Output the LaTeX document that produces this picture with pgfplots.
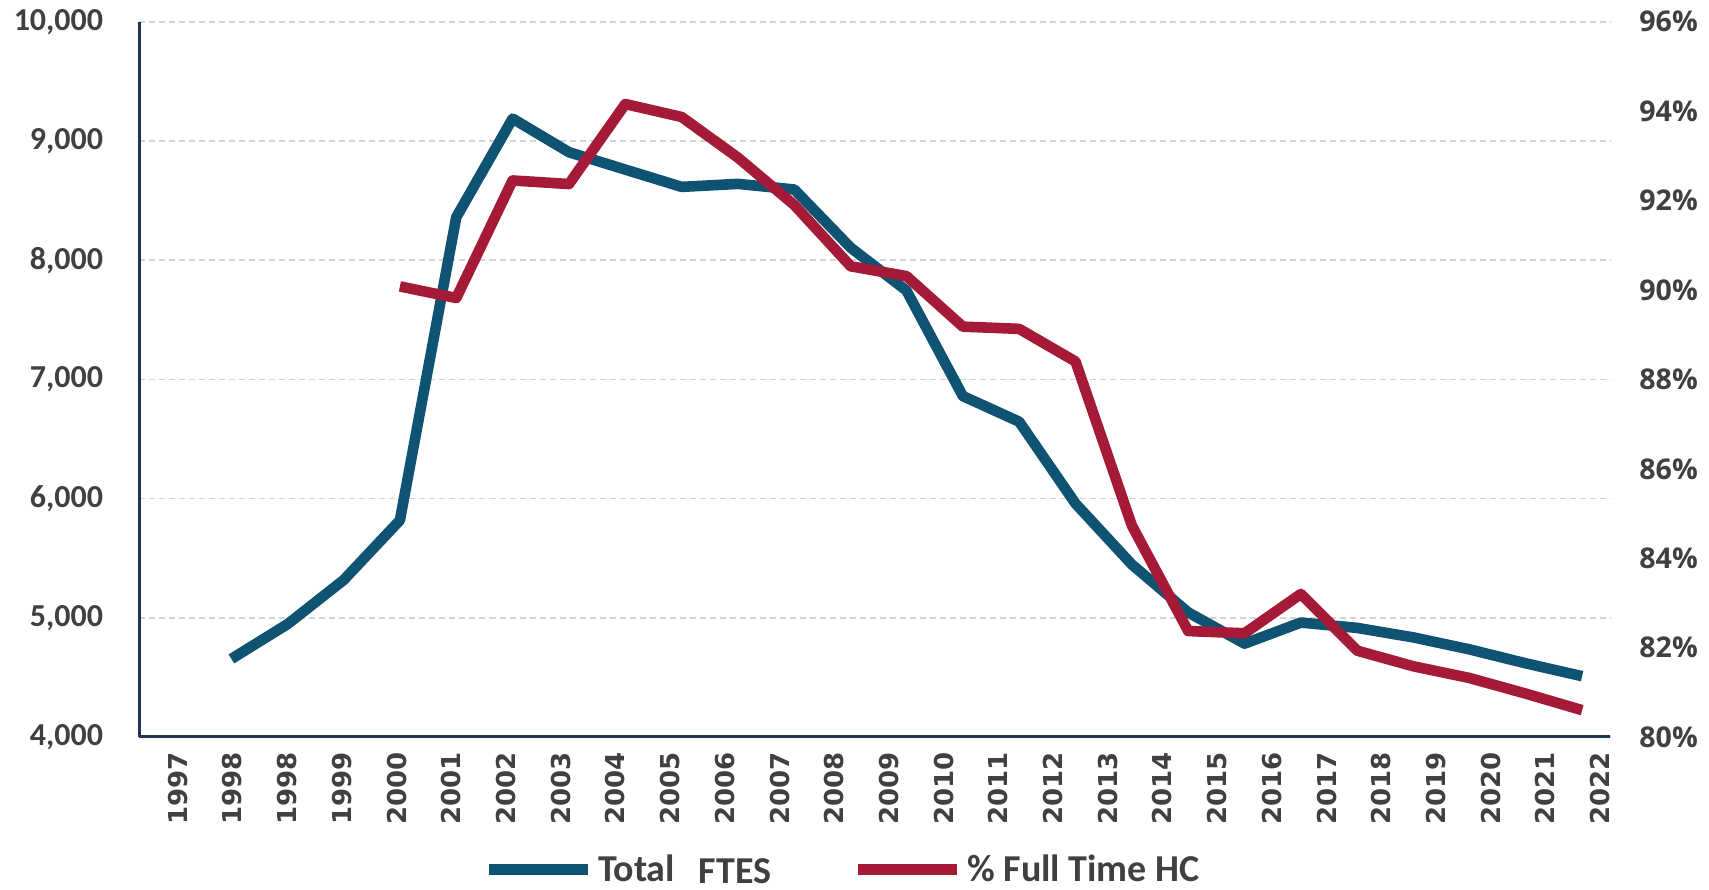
\documentclass[border=0pt]{standalone}
\usepackage{fontspec}
\setmainfont{Carlito}
\newfontfamily\osans{Open Sans}
\newfontfamily\dvs{DejaVu Sans}
\usepackage{pgfplots}
\pgfplotsset{compat=1.18}

\definecolor{ftesblue}{RGB}{15,83,115}
\definecolor{hcred}{RGB}{165,26,55}
\definecolor{axnavy}{RGB}{31,54,84}
\definecolor{txt}{RGB}{64,64,64}
\definecolor{gridc}{RGB}{212,212,212}

\begin{document}
\begin{tikzpicture}
\pgfplotsset{
  every axis/.append style={
    scale only axis, width=735.25pt, height=357.6pt,
    xmin=-0.70, xmax=26.18,
    major tick length=0pt,
    scaled y ticks=false,
    /pgf/number format/assume math mode=true,
  },
}
% left axis: Total FTES
\begin{axis}[
  ymin=4000, ymax=10000, ytick={4000,5000,...,10000},
  axis x line*=bottom, axis y line*=left,
  axis line style={-, draw=axnavy, line width=1.5pt},
  xtick={0,...,26},
  xticklabels={1997,1998,1998,1999,2000,2001,2002,2003,2004,2005,2006,2007,2008,2009,2010,2011,2012,2013,2014,2015,2016,2017,2018,2019,2020,2021,2022},
  xticklabel style={font=\dvs\bfseries\fontsize{13}{13}\selectfont, text=txt, rotate=90, anchor=east, inner sep=0pt},
  xticklabel shift=7.5pt,
  yticklabel style={font=\bfseries\fontsize{16}{16}\selectfont, text=txt, inner sep=0pt},
  yticklabel shift=18pt,
  /pgf/number format/1000 sep={,},
  ymajorgrids, grid style={draw=gridc, line width=0.75pt, dash pattern=on 3pt off 2pt},
]
\addplot[ftesblue, line width=5.3pt, line join=round] coordinates {
  (0.98,4655) (2.01,4948) (3.03,5316) (4.06,5818) (5.09,8360) (6.12,9188)
  (7.15,8906) (8.18,8760) (9.21,8615) (10.24,8640) (11.27,8593) (12.30,8105)
  (13.32,7745) (14.35,6860) (15.38,6645) (16.41,5958) (17.44,5447) (18.47,5045)
  (19.50,4783) (20.53,4960) (21.56,4915) (22.59,4835) (23.61,4735) (24.64,4618)
  (25.67,4510)
};
\coordinate (ll) at (rel axis cs:0,0);
\coordinate (ur) at (rel axis cs:1,1);
\end{axis}
% right axis: % full time headcount
\begin{axis}[
  ymin=80, ymax=96, ytick={80,82,...,96},
  axis x line=none, axis y line*=right,
  axis line style={draw=none},
  yticklabel={\pgfmathprintnumber[fixed,precision=0]{\tick}\%},
  yticklabel style={font=\osans\bfseries\fontsize{14.3}{14.3}\selectfont, text=txt, inner sep=0pt, anchor=west},
  yticklabel shift=14.5pt,
  legend style={at={(0.479,-0.185)}, anchor=center, draw=none, fill=none,
    font=\bfseries\fontsize{19}{19}\selectfont, text=txt,
    /tikz/every even column/.append style={column sep=38pt},
    nodes={inner sep=2.5pt}},
  legend columns=2,
  legend image code/.code={\draw[#1, line width=5.5pt] (0pt,0pt) -- (49.5pt,0pt);},
]
\addlegendimage{draw=ftesblue}
\addlegendentry{Total\hspace{12pt}\raisebox{-1.2pt}{FTES}}
\addplot[hcred, line width=5.3pt, line join=round] coordinates {
  (4.06,90.08) (5.09,89.82) (6.12,92.45) (7.15,92.37) (8.18,94.16) (9.21,93.87)
  (10.24,92.96) (11.27,91.90) (12.30,90.53) (13.32,90.31) (14.35,89.18) (15.38,89.13)
  (16.41,88.40) (17.44,84.73) (18.47,82.37) (19.50,82.32) (20.53,83.20) (21.56,81.93)
  (22.59,81.58) (23.61,81.32) (24.64,80.97) (25.67,80.60)
};
\addlegendentry{\% Full Time HC}
\end{axis}
\pgfresetboundingbox
\path ([shift={(-69.75pt,-76.5pt)}]ll) rectangle ([shift={(49.5pt,10.9pt)}]ur);
\end{tikzpicture}
\end{document}
